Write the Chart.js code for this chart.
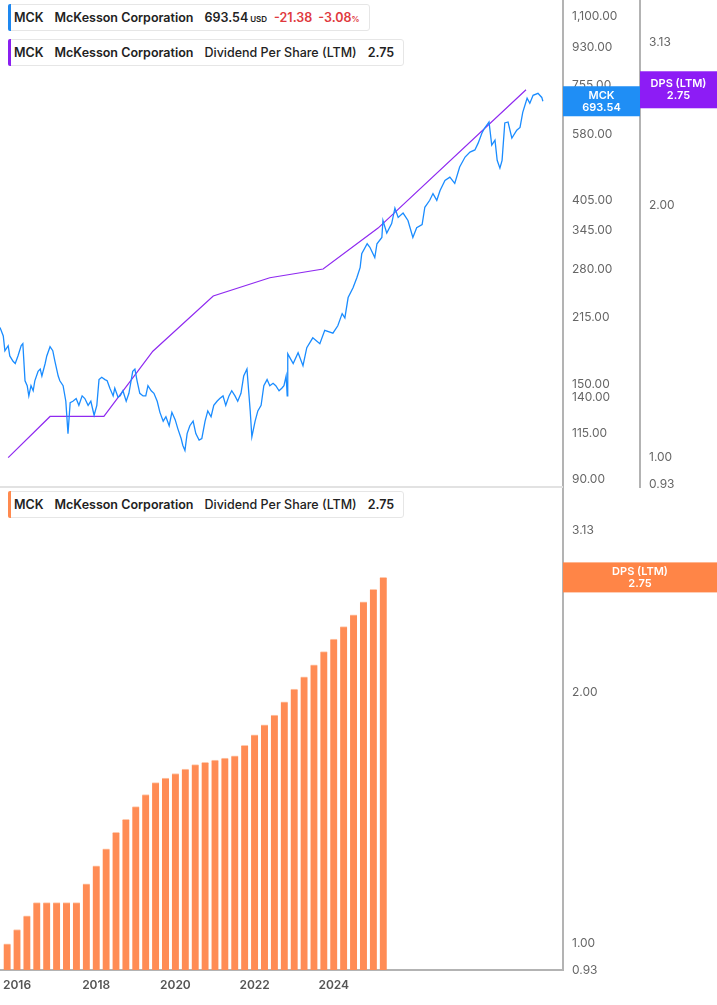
<!DOCTYPE html>
<html><head><meta charset="utf-8">
<script src="https://cdn.jsdelivr.net/npm/chart.js@4"></script>
<style>
body{margin:0;background:#fff;width:717px;height:1005px;overflow:hidden;font-family:Inter,"Noto Sans",sans-serif;position:relative}
canvas{position:absolute;left:0}
.leg{position:absolute;left:8px;height:25px;background:#fff;border:1px solid #e6e6e6;border-radius:3px;display:flex;align-items:center;font-size:12.5px;font-weight:600;color:#222;padding-left:5px;padding-right:9px;white-space:nowrap}
.leg:before{content:"";position:absolute;left:-1px;top:-1px;bottom:-1px;width:3px;border-radius:2px 0 0 2px}
.b:before{background:#1e88f0}.p:before{background:#8a1ff0}.o:before{background:#ff8a4f}
.leg span{margin-right:11px}
.red{color:#e0393e}
</style></head><body>
<canvas id="top" width="717" height="488" style="top:0"></canvas>
<canvas id="bot" width="717" height="517" style="top:488px"></canvas>
<div class="leg b" style="top:4px"><span>MCK</span><span>McKesson Corporation</span><span style="margin-right:7px">693.54<small style="font-size:8px;margin-left:2px">USD</small></span><span class="red" style="margin-right:6px">-21.38</span><span class="red" style="margin-right:0">-3.08<small style="font-size:8px">%</small></span></div>
<div class="leg p" style="top:39px"><span>MCK</span><span>McKesson Corporation</span><span style="font-weight:500">Dividend Per Share (LTM)</span><span style="margin-right:0">2.75</span></div>
<div class="leg o" style="top:491px"><span>MCK</span><span>McKesson Corporation</span><span style="font-weight:500">Dividend Per Share (LTM)</span><span style="margin-right:0">2.75</span></div>
<script>
const priceDates=[2015.50,2015.56,2015.59,2015.65,2015.68,2015.74,2015.78,2015.83,2015.89,2015.92,2015.96,2016.00,2016.03,2016.07,2016.11,2016.14,2016.20,2016.24,2016.27,2016.33,2016.36,2016.42,2016.47,2016.51,2016.57,2016.60,2016.66,2016.71,2016.75,2016.79,2016.84,2016.90,2016.95,2017.01,2017.06,2017.12,2017.17,2017.23,2017.28,2017.32,2017.37,2017.43,2017.47,2017.52,2017.58,2017.61,2017.67,2017.71,2017.76,2017.82,2017.87,2017.94,2017.98,2018.02,2018.07,2018.13,2018.18,2018.22,2018.28,2018.33,2018.39,2018.44,2018.50,2018.55,2018.61,2018.66,2018.72,2018.77,2018.83,2018.86,2018.90,2018.94,2018.99,2019.05,2019.10,2019.16,2019.21,2019.27,2019.32,2019.38,2019.43,2019.49,2019.54,2019.60,2019.65,2019.71,2019.76,2019.82,2019.87,2019.93,2019.98,2020.04,2020.10,2020.13,2020.19,2020.24,2020.30,2020.35,2020.41,2020.46,2020.52,2020.57,2020.63,2020.68,2020.72,2020.76,2020.78,2020.79,2020.89,2020.98,2021.07,2021.14,2021.25,2021.38,2021.47,2021.62,2021.71,2021.79,2021.84,2021.90,2021.99,2022.06,2022.12,2022.15,2022.25,2022.30,2022.39,2022.43,2022.52,2022.54,2022.61,2022.70,2022.76,2022.82,2022.91,2023.00,2023.09,2023.16,2023.26,2023.31,2023.40,2023.46,2023.53,2023.59,2023.68,2023.77,2023.86,2023.95,2024.05,2024.14,2024.23,2024.29,2024.36,2024.41,2024.49,2024.54,2024.60,2024.64,2024.69,2024.73,2024.78,2024.84,2024.91,2025.00,2025.06,2025.11,2025.19,2025.24,2025.30,2025.39,2025.46,2025.48];
const priceValues=[204,195,180,185,175,170,168,175,185,187,153,149,141,149,145,153,161,163,157,168,175,184,180,170,157,153,149,137,115,136,137,139,134,141,139,134,137,127,134,154,156,154,153,147,141,147,140,141,145,137,143,161,163,153,143,141,141,149,145,143,137,129,123,126,120,129,124,118,112,108,105,115,120,123,115,111,112,123,130,126,134,137,139,141,134,141,145,141,137,143,157,163,130,113,123,130,134,149,154,149,151,149,145,147,149,157,141,177,168,178,166,183,193,187,201,198,206,220,215,240,253,267,282,304,321,315,298,321,332,364,340,358,389,370,379,364,332,350,356,391,406,421,406,428,452,460,445,486,513,527,533,553,584,600,620,547,562,504,483,504,617,620,568,593,602,653,705,686,716,724,708,693.54];
const dpsLineDates=[2015.65,2016.42,2017.41,2018.31,2019.42,2020.46,2021.44,2022.45,2025.17];
const dpsLineValues=[1.00,1.12,1.12,1.34,1.56,1.64,1.68,1.88,2.75];
const barDates=[2015.75,2016.00,2016.25,2016.50,2016.75,2017.00,2017.25,2017.50,2017.75,2018.00,2018.25,2018.50,2018.75,2019.00,2019.25,2019.50,2019.75,2020.00,2020.25,2020.50,2020.75,2021.00,2021.25,2021.50,2021.75,2022.00,2022.25,2022.50,2022.75,2023.00,2023.25,2023.50,2023.75,2024.00,2024.25,2024.50,2024.75,2025.00,2025.25];
const barValues=[1.00,1.04,1.08,1.12,1.12,1.12,1.12,1.12,1.18,1.24,1.30,1.36,1.41,1.46,1.51,1.56,1.58,1.60,1.62,1.64,1.65,1.66,1.67,1.68,1.73,1.78,1.83,1.88,1.95,2.02,2.09,2.16,2.24,2.32,2.40,2.48,2.57,2.66,2.75];
const priceTicks=[90,115,140,150,215,280,345,405,580,755,930,1100];
const dpsTicks=[0.93,1.00,2.00,2.72,3.13];
const yearTicks=[2016,2018,2020,2022,2024];

const AX='#b3b3b3', TXT='#666';
const fmt2=v=>Number(v).toLocaleString('en-US',{minimumFractionDigits:2,maximumFractionDigits:2});
function fixTicks(list){return s=>{s.ticks=list.map(v=>({value:v}));};}
function fixW(w){return s=>{s.width=w;s.paddingTop=0;s.paddingBottom=0;};}
const tickFont={family:'Inter, Noto Sans, sans-serif',size:12};

function box(ctx,x,y,w,h,color,l1,l2){
  ctx.save();ctx.fillStyle=color;ctx.fillRect(x,y-h/2,w,h);
  ctx.fillStyle='#fff';ctx.font='600 11px Inter, sans-serif';ctx.textAlign='center';ctx.textBaseline='middle';
  ctx.fillText(l1,x+w/2,y-6);ctx.fillText(l2,x+w/2,y+6);ctx.restore();
}
const topLabels={id:'tl',afterDraw(c){
  const ctx=c.ctx;
  box(ctx,563,c.scales.y.getPixelForValue(693.54),77,30,'#1f8ef5','MCK','693.54');
  box(ctx,640,c.scales.d.getPixelForValue(2.75),77,37,'#8d1cf5','DPS (LTM)','2.75');
}};
const botLabels={id:'bl',afterDraw(c){
  box(c.ctx,563,c.scales.y.getPixelForValue(2.75),154,30,'#ff8547','DPS (LTM)','2.75');
}};

new Chart(document.getElementById('top'),{
  type:'line',
  data:{datasets:[
    {data:priceDates.map((d,i)=>({x:d,y:priceValues[i]})),yAxisID:'y',borderColor:'#1a8cff',borderWidth:1.3,pointRadius:0,tension:0},
    {data:dpsLineDates.map((d,i)=>({x:d,y:dpsLineValues[i]})),yAxisID:'d',borderColor:'#8f2af0',borderWidth:1.2,pointRadius:0,tension:0}
  ]},
  options:{responsive:false,animation:false,layout:{padding:0},
    plugins:{legend:{display:false},tooltip:{enabled:false}},
    scales:{
      x:{type:'linear',min:2015.5,max:2025.85,display:false},
      y:{type:'logarithmic',position:'right',min:85.7,max:1199,afterBuildTicks:fixTicks(priceTicks),afterFit:fixW(77),
        grid:{display:false,drawTicks:true,tickLength:4,tickColor:'#777'},border:{color:AX,width:2},
        ticks:{color:TXT,font:tickFont,padding:5,callback:v=>fmt2(v)}},
      d:{type:'logarithmic',position:'right',min:0.92,max:3.52,afterBuildTicks:fixTicks([0.93,1.00,2.00,2.72,3.13]),afterFit:fixW(77),
        grid:{display:false,tickLength:4,tickColor:'#777'},border:{color:AX,width:2},
        ticks:{color:TXT,font:tickFont,padding:5,callback:v=>fmt2(v)}}
    }},
  plugins:[topLabels,{id:'sep',afterDraw(c){const x=c.ctx;x.save();x.strokeStyle='#e2e2e2';x.lineWidth=2;x.beginPath();x.moveTo(0,487);x.lineTo(563,487);x.stroke();x.restore();}}]
});

new Chart(document.getElementById('bot'),{
  type:'bar',
  data:{datasets:[{data:barDates.map((d,i)=>({x:d,y:barValues[i]})),backgroundColor:'#ff8c55',borderColor:'#ffc9ad',borderWidth:{top:1,left:0,right:0,bottom:0},borderSkipped:'bottom',barThickness:7}]},
  options:{responsive:false,animation:false,layout:{padding:0},
    plugins:{legend:{display:false},tooltip:{enabled:false}},
    scales:{
      x:{type:'linear',offset:false,min:2015.57,max:2029.79,afterBuildTicks:fixTicks(yearTicks),afterFit:s=>{s.height=35;s.paddingLeft=0;s.paddingRight=0;},
        grid:{display:false,offset:false,tickLength:4,tickColor:'#777'},border:{color:AX,width:2},
        ticks:{color:'#555',font:{family:'Inter, sans-serif',size:12,weight:'600'},padding:4,callback:v=>String(v)}},
      y:{type:'logarithmic',position:'right',min:0.93,max:3.52,afterBuildTicks:fixTicks(dpsTicks),afterFit:fixW(154),
        grid:{display:false,tickLength:4,tickColor:'#777'},border:{color:AX,width:2},
        ticks:{color:TXT,font:tickFont,padding:5,callback:v=>fmt2(v)}}
    }},
  plugins:[botLabels]
});
</script></body></html>
